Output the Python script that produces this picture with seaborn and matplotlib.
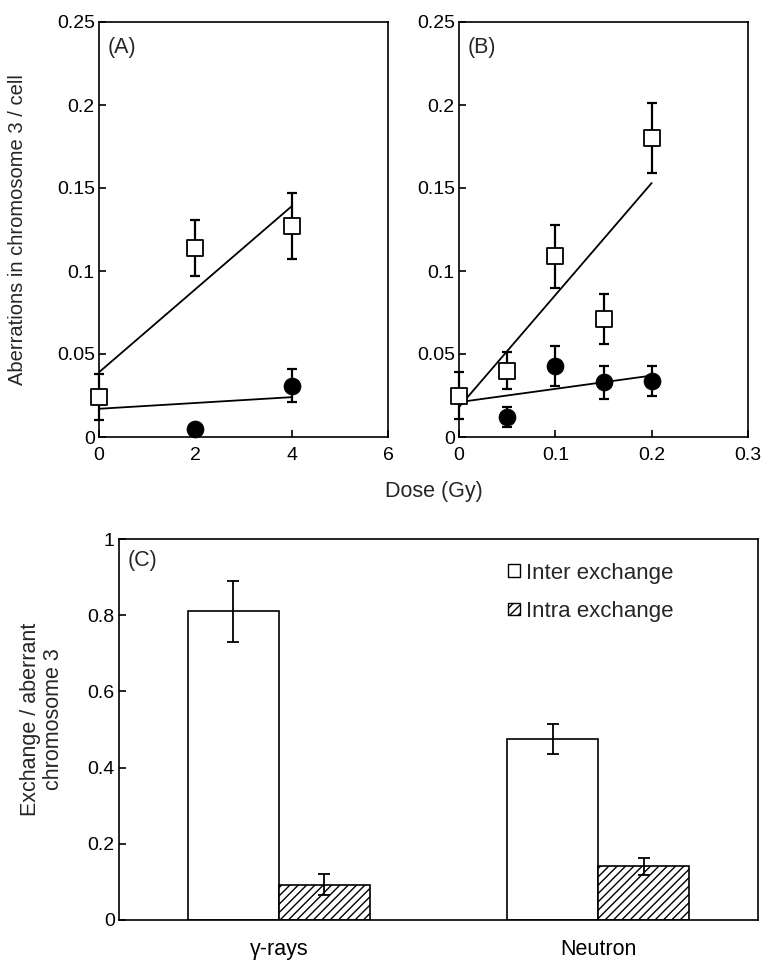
import matplotlib
matplotlib.use("Agg")
import matplotlib.pyplot as plt
import seaborn as sns
import pandas as pd
from matplotlib.patches import Patch
from matplotlib.ticker import FuncFormatter, FixedLocator

# ---------------- data ----------------
# Panel A (gamma-rays)
dose_a_inter = [0, 2, 4]
inter_a = [0.024, 0.114, 0.127]
inter_a_err = [0.014, 0.017, 0.020]
dose_a_intra = [2, 4]
intra_a = [0.005, 0.031]
intra_a_err = [0.0, 0.010]
fit_a_x = [0, 4]
fit_a_inter = [0.039, 0.139]
fit_a_intra = [0.017, 0.024]

# Panel B (neutron)
dose_b_inter = [0, 0.05, 0.1, 0.15, 0.2]
inter_b = [0.025, 0.040, 0.109, 0.071, 0.180]
inter_b_err = [0.014, 0.011, 0.019, 0.015, 0.021]
dose_b_intra = [0.05, 0.1, 0.15, 0.2]
intra_b = [0.012, 0.043, 0.033, 0.034]
intra_b_err = [0.006, 0.012, 0.010, 0.009]
fit_b_x = [0, 0.2]
fit_b_inter = [0.018, 0.153]
fit_b_intra = [0.021, 0.037]

# Panel C
sources = ["γ-rays", "Neutron"]
types = ["Inter exchange", "Intra exchange"]
inter_c = [0.81, 0.475]
inter_c_err = [0.08, 0.04]
intra_c = [0.093, 0.141]
intra_c_err = [0.027, 0.023]

# ---------------- style ----------------
sns.set_style("ticks")
plt.rcParams["font.family"] = ["Liberation Sans", "DejaVu Sans"]
plt.rcParams["hatch.linewidth"] = 1.0
plt.rcParams["axes.edgecolor"] = "black"
plt.rcParams["axes.linewidth"] = 1.2

TICK = 14
LAB = 15.5

W, H = 763, 966
fig = plt.figure(figsize=(W / 100, H / 100), dpi=100)

def px_axes(l, t, r, b):
    return fig.add_axes([l / W, 1 - b / H, (r - l) / W, (b - t) / H])

axA = px_axes(99, 22, 388, 437)
axB = px_axes(459, 22, 748, 437)
axC = px_axes(119, 539, 758, 920)

fmt = FuncFormatter(lambda v, p: "%g" % round(v, 4))

def scatter_panel(ax, xs, ys, es, xc, yc, ec, fx, fs, fc, xlim, xticks, label):
    ax.errorbar(xs, ys, yerr=es, fmt="none", ecolor="black", elinewidth=1.6,
                capsize=3.5, capthick=1.6, zorder=2, clip_on=False)
    ax.errorbar(xc, yc, yerr=ec, fmt="none", ecolor="black", elinewidth=1.6,
                capsize=3.5, capthick=1.6, zorder=2, clip_on=False)
    sns.lineplot(x=fx, y=fs, color="black", lw=1.3, ax=ax, zorder=3)
    sns.lineplot(x=fx, y=fc, color="black", lw=1.3, ax=ax, zorder=3)
    sns.scatterplot(x=xs, y=ys, marker="s", s=140, facecolor="white",
                    edgecolor="black", linewidth=1.3, zorder=4, clip_on=False, ax=ax)
    sns.scatterplot(x=xc, y=yc, marker="o", s=150, color="black",
                    edgecolor="black", linewidth=0.5, zorder=4, clip_on=False, ax=ax)
    ax.set_xlim(*xlim)
    ax.set_ylim(0, 0.25)
    ax.xaxis.set_major_locator(FixedLocator(xticks))
    ax.yaxis.set_major_locator(FixedLocator([0, 0.05, 0.1, 0.15, 0.2, 0.25]))
    ax.xaxis.set_major_formatter(fmt)
    ax.yaxis.set_major_formatter(fmt)
    ax.tick_params(axis="both", direction="in", length=5, width=1.2,
                   labelsize=TICK, colors="black")
    ax.tick_params(axis="x", pad=7)
    ax.tick_params(axis="y", pad=3)
    ax.set_xlabel("")
    ax.set_ylabel("")
    ax.text(0.03, 0.965, label, transform=ax.transAxes, ha="left", va="top", fontsize=LAB)
    for s in ax.spines.values():
        s.set_linewidth(1.2)
        s.set_color("black")

scatter_panel(axA, dose_a_inter, inter_a, inter_a_err, dose_a_intra, intra_a,
              intra_a_err, fit_a_x, fit_a_inter, fit_a_intra, (0, 6), [0, 2, 4, 6], "(A)")
scatter_panel(axB, dose_b_inter, inter_b, inter_b_err, dose_b_intra, intra_b,
              intra_b_err, fit_b_x, fit_b_inter, fit_b_intra, (0, 0.3), [0, 0.1, 0.2, 0.3], "(B)")

fig.text(18 / W, 1 - 230 / H, "Aberrations in chromosome 3 / cell", rotation=90,
         ha="center", va="center", fontsize=14.5)
fig.text(434 / W, 1 - 491 / H, "Dose (Gy)", ha="center", va="center", fontsize=LAB)

# ---------------- Panel C ----------------
df = pd.DataFrame({
    "source": sources + sources,
    "type": [types[0]] * len(sources) + [types[1]] * len(sources),
    "value": inter_c + intra_c,
})
sns.barplot(data=df, x="source", y="value", hue="type", palette=["white", "white"],
            saturation=1, edgecolor="black", linewidth=1.2, width=0.57, gap=0,
            errorbar=None, legend=False, ax=axC, zorder=2)
for i, (cont, errs) in enumerate(zip(axC.containers, [inter_c_err, intra_c_err])):
    for bar, e in zip(cont, errs):
        if i == 1:
            bar.set_hatch("////")
        axC.errorbar(bar.get_x() + bar.get_width() / 2, bar.get_height(), yerr=e,
                     fmt="none", ecolor="black", elinewidth=1.3, capsize=4,
                     capthick=1.3, zorder=3)
axC.set_xlim(-0.5, 1.5)
axC.set_ylim(0, 1)
axC.yaxis.set_major_locator(FixedLocator([0, 0.2, 0.4, 0.6, 0.8, 1.0]))
axC.yaxis.set_major_formatter(fmt)
axC.tick_params(axis="y", direction="in", length=5, width=1.2, labelsize=TICK, pad=3, colors="black")
axC.tick_params(axis="x", length=0, labelsize=15.5, pad=14, colors="black")
axC.set_xlabel("")
axC.set_ylabel("")
for s in axC.spines.values():
    s.set_linewidth(1.2)
    s.set_color("black")
axC.text(0.014, 0.97, "(C)", transform=axC.transAxes, ha="left", va="top", fontsize=LAB)

handles = [Patch(facecolor="white", edgecolor="black", lw=1.0),
           Patch(facecolor="white", edgecolor="black", hatch="////", lw=1.0)]
axC.legend(handles, types, loc="upper left", bbox_to_anchor=(0.608, 0.938),
           frameon=False, fontsize=16, handlelength=0.55, handleheight=0.5,
           handletextpad=0.3, labelspacing=0.78, borderpad=0, borderaxespad=0)

fig.text(42 / W, 1 - 719 / H, "Exchange / aberrant\nchromosome 3", rotation=90,
         ha="center", va="center", multialignment="center", fontsize=15.5, linespacing=1.1)

fig.savefig("out.png", dpi=100)
